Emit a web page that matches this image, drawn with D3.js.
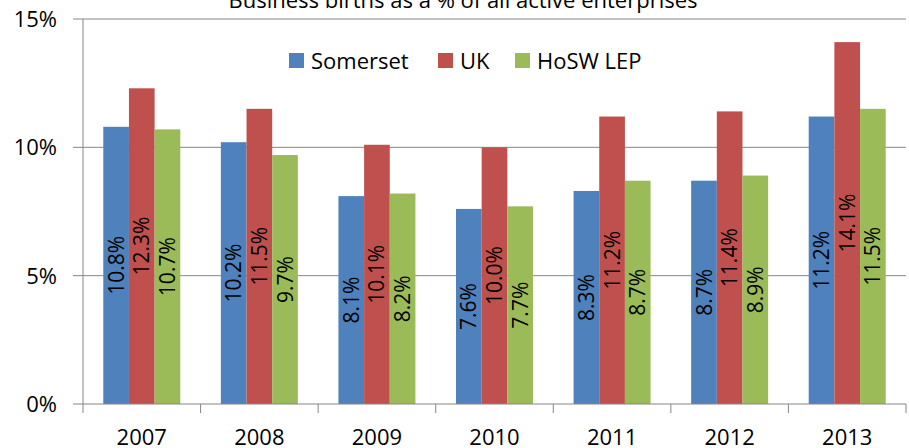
<!DOCTYPE html>
<html>
<head>
<meta charset="utf-8">
<script src="https://cdn.jsdelivr.net/npm/d3@7"></script>
<style>
    body { margin: 0; background: #fff; }
    svg { display: block; font-family: "Open Sans", sans-serif; }
</style>
</head>
<body>
<svg id="canvas" width="909" height="448"></svg>
<script>
        const years = ["2007", "2008", "2009", "2010", "2011", "2012", "2013"];
        const seriesNames = ["Somerset", "UK", "HoSW LEP"];
        const somerset = [10.8, 10.2, 8.1, 7.6, 8.3, 8.7, 11.2];
        const uk = [12.3, 11.5, 10.1, 10.0, 11.2, 11.4, 14.1];
        const hosw = [10.7, 9.7, 8.2, 7.7, 8.7, 8.9, 11.5];
        const yTicks = [0, 5, 10, 15];
        const colors = ["#4F81BD", "#C0504D", "#9BBB59"];

        const svg = d3.select("#canvas");
        const plotLeft = 83, plotRight = 906, plotTop = 19, plotBottom = 404;

        const x = d3.scaleBand().domain(years).range([plotLeft, plotRight]).padding(0);
        const step = x.bandwidth();
        const xInner = d3.scaleBand().domain(seriesNames)
            .range([step * 0.1725, step * 0.8275]).padding(0);
        const y = d3.scaleLinear().domain([0, 15]).range([plotBottom, plotTop]);

        // gridlines (also act as left ticks)
        svg.append("g").selectAll("line").data(yTicks.filter(d => d > 0)).enter()
            .append("line")
            .attr("x1", plotLeft - 10).attr("x2", plotRight)
            .attr("y1", d => y(d)).attr("y2", d => y(d))
            .attr("stroke", "#868686").attr("stroke-width", 1);

        const rows = years.map((yr, i) => ({ year: yr, vals: [somerset[i], uk[i], hosw[i]] }));

        const groups = svg.append("g").selectAll("g").data(rows).enter()
            .append("g").attr("transform", d => `translate(${x(d.year)},0)`);

        groups.selectAll("rect")
            .data(d => d.vals.map((v, j) => ({ name: seriesNames[j], v, j })))
            .enter().append("rect")
            .attr("x", d => xInner(d.name))
            .attr("width", xInner.bandwidth())
            .attr("y", d => y(d.v))
            .attr("height", d => plotBottom - y(d.v))
            .attr("fill", d => colors[d.j]);

        groups.selectAll("text")
            .data(d => d.vals.map((v, j) => ({ name: seriesNames[j], v, j })))
            .enter().append("text")
            .attr("transform", d => `translate(${xInner(d.name) + xInner.bandwidth() / 2},${(y(d.v) + plotBottom) / 2}) rotate(-90)`)
            .attr("text-anchor", "middle")
            .attr("dy", "0.36em")
            .attr("font-size", 21)
            .attr("fill", "#000")
            .text(d => d.v.toFixed(1) + "%");

        // axes
        svg.append("line").attr("x1", plotLeft).attr("x2", plotLeft).attr("y1", plotTop).attr("y2", plotBottom)
            .attr("stroke", "#868686");
        svg.append("line").attr("x1", plotLeft - 10).attr("x2", plotRight).attr("y1", plotBottom).attr("y2", plotBottom)
            .attr("stroke", "#868686");
        const bounds = years.map(d => x(d)).concat([plotRight]);
        svg.append("g").selectAll("line").data(bounds).enter().append("line")
            .attr("x1", d => d).attr("x2", d => d)
            .attr("y1", plotBottom).attr("y2", plotBottom + 9)
            .attr("stroke", "#868686");

        svg.append("g").selectAll("text").data(yTicks).enter().append("text")
            .attr("x", 57).attr("y", d => y(d)).attr("dy", "0.36em")
            .attr("text-anchor", "end").attr("font-size", 22)
            .text(d => d + "%");

        svg.append("g").selectAll("text").data(years).enter().append("text")
            .attr("x", d => x(d) + step / 2).attr("y", 445)
            .attr("text-anchor", "middle").attr("font-size", 22)
            .text(d => d);

        // title (clipped at top as in the source)
        svg.append("text").attr("x", 463).attr("y", 8)
            .attr("text-anchor", "middle").attr("font-size", 22)
            .text("Business births as a % of all active enterprises");

        // legend
        const legendX = [289, 438, 515];
        const legend = svg.append("g").selectAll("g").data(seriesNames).enter()
            .append("g").attr("transform", (d, i) => `translate(${legendX[i]},53)`);
        legend.append("rect").attr("width", 15).attr("height", 15).attr("fill", (d, i) => colors[i]);
        legend.append("text").attr("x", 22).attr("y", 8).attr("dy", "0.36em")
            .attr("font-size", 22).text(d => d);
</script>
</body>
</html>
